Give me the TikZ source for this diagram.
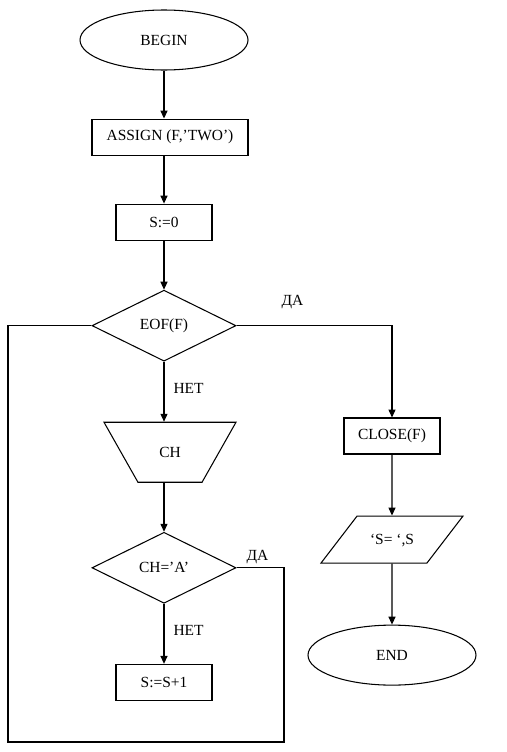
\documentclass[tikz,border=0pt]{standalone}
\usepackage{fontspec}
\setmainfont{Liberation Serif}
\usepackage{tikz}
\usetikzlibrary{shapes.geometric, arrows.meta, positioning}

\begin{document}
\begin{tikzpicture}[
    line width=0.6pt,
    every node/.style = {font=\fontsize{8.8}{10}\selectfont, inner sep=0pt},
    terminal/.style = {ellipse, draw, minimum width=3.36cm, minimum height=1.2cm},
    process/.style = {rectangle, draw, minimum width=1.92cm, minimum height=0.72cm},
    decision/.style = {diamond, draw, aspect=2, minimum width=2.88cm, minimum height=1.42cm},
    readbox/.style = {trapezium, draw, trapezium left angle=119.5, trapezium right angle=119.5, trapezium stretches body=true, text height=0.2cm, text depth=0pt, inner ysep=0.5cm, minimum width=2.64cm},
    outbox/.style = {trapezium, draw, trapezium left angle=52.5, trapezium right angle=127.5, trapezium stretches body=true, text height=0.2cm, text depth=0pt, inner ysep=0.37cm, minimum width=2.84cm},
    arrow/.style = {-{Triangle[width=4pt,length=4.5pt]}}
]
    \useasboundingbox (0,0) rectangle (10.12,-15.04);

    % Nodes
    \node (begin) [terminal] at (3.28,-0.8) {BEGIN};
    \node (assign) [process, below=0.96cm of begin, xshift=0.12cm, minimum width=3.12cm] {ASSIGN (F,’TWO’)};
    \node (szero) [process, below=0.96cm of assign, xshift=-0.12cm] {S:=0};
    \node (eof) [decision, below=0.98cm of szero] {EOF(F)};
    \node (readch) [readbox, below=1.2cm of eof, xshift=0.12cm] {CH};
    \node (isa) [decision, below=0.98cm of readch, xshift=-0.12cm] {CH=’A’};
    \node (incr) [process, below=1.2cm of isa] {S:=S+1};
    \node (close) [process] at (7.84,-8.72) {CLOSE(F)};
    \node (print) [outbox, below=1.22cm of close] {‘S= ‘,S};
    \node (end) [terminal, below=1.22cm of print] {END};
    \coordinate (loopbr) at (5.68,-14.84);
    \coordinate (loopbl) at (0.16,-14.84);

    % Arrows
    \draw [arrow] (begin.south) -- (begin.south |- assign.north);
    \draw [arrow] (szero.north |- assign.south) -- (szero.north);
    \draw [arrow] (szero) -- (eof);
    \draw [arrow] (eof.south) -- node[pos=0.45, right=0.18cm] {НЕТ} (eof.south |- readch.north);
    \draw [arrow] (isa.north |- readch.south) -- (isa.north);
    \draw [arrow] (isa) -- node[pos=0.45, right=0.18cm] {НЕТ} (incr);
    \draw [arrow] (eof.east) -| node[pos=0.18, above=0.33cm] {ДА} (close.north);
    \draw [arrow] (close) -- (print);
    \draw [arrow] (print) -- (end);
    \draw (isa.east) -| node[pos=0.22, above=0.07cm] {ДА} (loopbr) -- (loopbl) |- (eof.west);

\end{tikzpicture}
\end{document}
